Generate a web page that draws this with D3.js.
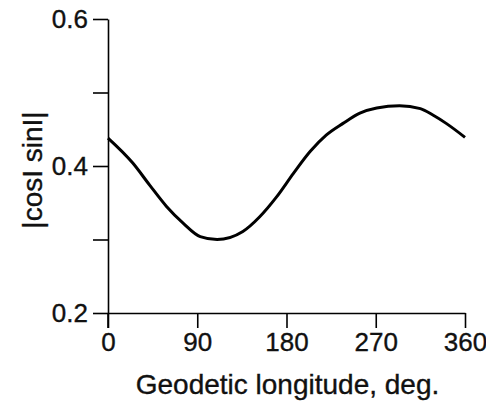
<!DOCTYPE html>
<html>
<head>
<meta charset="utf-8">
<script src="https://cdn.jsdelivr.net/npm/d3@7"></script>
<style>
  body { margin: 0; background: #fff; }
  text { font-family: "Liberation Sans", Arial, sans-serif; fill: #111; stroke: #111; stroke-width: 0.35px; }
</style>
</head>
<body>
<div id="chart"></div>
<script>
var width  = 486;
var height = 405;

// values
var longitude = [0, 25, 42, 59, 76, 93, 110, 136, 153, 170, 187, 204, 220, 237, 254, 271, 294, 315, 328, 341, 360];
var cosSin    = [0.438, 0.404, 0.374, 0.345, 0.322, 0.304, 0.300, 0.311, 0.331, 0.358, 0.390, 0.420,
                 0.442, 0.458, 0.472, 0.479, 0.482, 0.478, 0.469, 0.458, 0.439];
var xTicks = [0, 90, 180, 270, 360];
var yTicks = [0.2, 0.3, 0.4, 0.5, 0.6];
var yLabelled = [0.2, 0.4, 0.6];

var svg = d3.select("#chart").append("svg")
  .attr("width", width)
  .attr("height", height);

var x = d3.scaleLinear().domain([0, 360]).range([108, 465]);
var y = d3.scaleLinear().domain([0.2, 0.6]).range([313, 19]);

// x axis
var xAxis = svg.append("g")
  .attr("transform", "translate(0," + y(0.2) + ")")
  .call(d3.axisBottom(x).tickValues(xTicks).tickSize(15).tickSizeOuter(0).tickPadding(5));
xAxis.selectAll("text").style("font-size", "26px");

// y axis
var yAxis = svg.append("g")
  .attr("transform", "translate(" + x(0) + ",0)")
  .call(d3.axisLeft(y).tickValues(yTicks).tickSize(15).tickSizeOuter(0).tickPadding(5)
    .tickFormat(function(d) { return yLabelled.indexOf(d) >= 0 ? d3.format(".1f")(d) : ""; }));
yAxis.selectAll("text").style("font-size", "26px");

svg.selectAll(".domain, .tick line")
  .attr("stroke", "#000")
  .attr("stroke-width", 1.6);

// the origin tick of the y axis drops below the x axis
svg.append("line")
  .attr("x1", x(0)).attr("x2", x(0))
  .attr("y1", y(0.2)).attr("y2", y(0.2) + 15)
  .attr("stroke", "#000").attr("stroke-width", 1.6);

// curve
var line = d3.line()
  .x(function(d, i) { return x(longitude[i]); })
  .y(function(d) { return y(d); })
  .curve(d3.curveMonotoneX);

svg.append("path")
  .datum(cosSin)
  .attr("fill", "none")
  .attr("stroke", "#000")
  .attr("stroke-width", 3)
  .attr("d", line);

// axis titles
svg.append("text")
  .attr("x", (x(0) + x(360)) / 2 + 1)
  .attr("y", 394)
  .attr("text-anchor", "middle")
  .style("font-size", "28px")
  .text("Geodetic longitude, deg.");

svg.append("text")
  .attr("transform", "translate(42,170) rotate(-90)")
  .attr("text-anchor", "middle")
  .style("font-size", "28px")
  .text("|cosI sinI|");
</script>
</body>
</html>
